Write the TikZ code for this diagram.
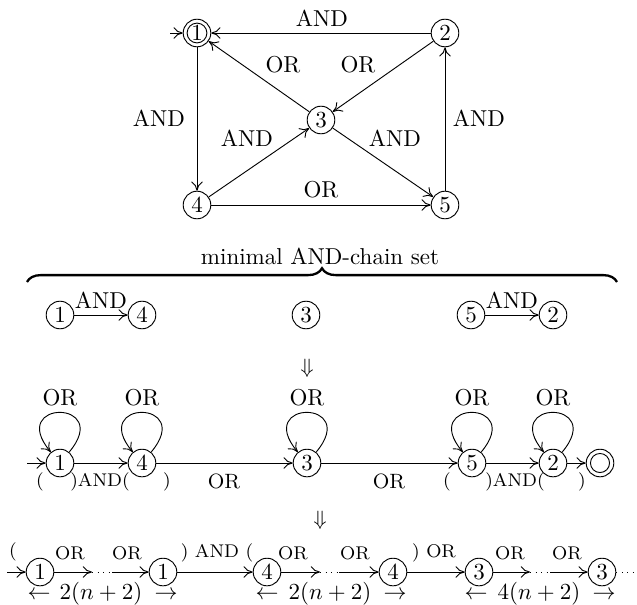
\documentclass[tikz,border=0pt]{standalone}
\usetikzlibrary{arrows.meta,decorations.pathreplacing}
\begin{document}
\begin{tikzpicture}[x=0.4348pt,y=-0.4348pt,
  st/.style={draw,circle,minimum size=12pt,inner sep=0pt},
  inner/.style={draw,circle,minimum size=8.6pt,inner sep=0pt},
  arr/.style={-{To[length=4pt,width=5pt]}},
  lbl/.style={inner sep=0pt},
  sml/.style={inner sep=0pt,font=\footnotesize},
  mid/.style={inner sep=0pt,font=\small},
  bl/.style={inner sep=0pt,anchor=base}
]
\useasboundingbox (0,0) rectangle (637,604);
% ---------- top graph ----------
\node[st] (t1) at (197,33) {};
\node[inner] (t1i) at (197,33) {1};
\node[st] (t2) at (445,33) {2};
\node[st] (t3) at (321,120) {3};
\node[st] (t4) at (197,205) {4};
\node[st] (t5) at (445,205) {5};
\coordinate (t0) at (170,33);
\draw[arr] (t0) -- (t1);
\draw[arr] (t2) -- (t1);
\draw[arr] (t1) -- (t4);
\draw[arr] (t3) -- (t1);
\draw[arr] (t2) -- (t3);
\draw[arr] (t4) -- (t3);
\draw[arr] (t3) -- (t5);
\draw[arr] (t4) -- (t5);
\draw[arr] (t5) -- (t2);
\node[lbl] (la) at (322,18) {AND};
\node[lbl] (lb) at (283,65) {OR};
\node[lbl] (lc) at (358,65) {OR};
\node[lbl] (ld) at (159,118) {AND};
\node[lbl] (le) at (247,138) {AND};
\node[lbl] (lf) at (395,138) {AND};
\node[lbl] (lg) at (321,190) {OR};
\node[lbl] (lh) at (479,118) {AND};
% ---------- brace ----------
\node[lbl] (title) at (320,256) {minimal AND-chain set};
\coordinate (br1) at (27,282);
\coordinate (br2) at (617,282);
\draw[line width=1pt,decorate,decoration={brace,amplitude=6pt}] (br1) -- (br2);
% ---------- row 2 ----------
\node[st] (a1) at (60,315) {1};
\node[st] (a4) at (142,315) {4};
\node[st] (a3) at (306,315) {3};
\node[st] (a5) at (471,315) {5};
\node[st] (a2) at (553,315) {2};
\draw[arr] (a1) -- (a4);
\draw[arr] (a5) -- (a2);
\node[lbl] (ra) at (101,300) {AND};
\node[lbl] (rb) at (512,300) {AND};
\node[lbl,font=\small] (dn1) at (307,368) {$\Downarrow$};
% ---------- row 3 ----------
\node[st] (b1) at (60,463) {1};
\node[st] (b4) at (142,463) {4};
\node[st] (b3) at (307,463) {3};
\node[st] (b5) at (472,463) {5};
\node[st] (b2) at (553,463) {2};
\node[st] (bf) at (600,463) {};
\node[inner,minimum size=8.3pt] (bfi) at (600,463) {};
\coordinate (b0) at (27,463);
\draw[arr] (b0) -- (b1);
\draw[arr] (b1) -- (b4);
\draw[arr] (b4) -- (b3);
\draw[arr] (b3) -- (b5);
\draw[arr] (b5) -- (b2);
\draw[arr] (b2) -- (bf);
\foreach \n in {b1,b4,b3,b5,b2}{
  \draw[arr] (\n.50) .. controls +(50:30pt) and +(130:30pt) .. (\n.130);
}
\node[lbl] (o1) at (60,398) {OR};
\node[lbl] (o4) at (142,398) {OR};
\node[lbl] (o3) at (307,398) {OR};
\node[lbl] (o5) at (472,398) {OR};
\node[lbl] (o2) at (553,398) {OR};
\node[sml] (p1) at (40,482) {(};
\node[sml] (p2) at (100,482) {)AND(};
\node[sml] (p3) at (167,482) {)};
\node[mid] (p4) at (224,481) {OR};
\node[mid] (p5) at (389,481) {OR};
\node[sml] (p6) at (447,482) {(};
\node[sml] (p7) at (515,482) {)AND(};
\node[sml] (p8) at (582,482) {)};
\node[lbl,font=\small] (dn2) at (320,520) {$\Downarrow$};
% ---------- row 4 ----------
\node[st] (c1) at (40,572) {1};
\node[st] (c2) at (163,572) {1};
\node[st] (c3) at (267,572) {4};
\node[st] (c4) at (393,572) {4};
\node[st] (c5) at (479,572) {3};
\node[st] (c6) at (602,572) {3};
\coordinate (c0) at (7,572);
\coordinate (d1a) at (92,572);
\coordinate (d1b) at (112,572);
\coordinate (d2a) at (320,572);
\coordinate (d2b) at (339,572);
\coordinate (d3a) at (530,572);
\coordinate (d3b) at (550,572);
\coordinate (dend) at (637,572);
\draw[arr] (c0) -- (c1);
\draw[arr] (c1) -- (d1a);
\draw[dotted] (d1a) -- (d1b);
\draw[arr] (d1b) -- (c2);
\draw[arr] (c2) -- (c3);
\draw[arr] (c3) -- (d2a);
\draw[dotted] (d2a) -- (d2b);
\draw[arr] (d2b) -- (c4);
\draw[arr] (c4) -- (c5);
\draw[arr] (c5) -- (d3a);
\draw[dotted] (d3a) -- (d3b);
\draw[arr] (d3b) -- (c6);
\draw[dotted] (c6) -- (dend);
\node[sml] (q0) at (13,552) {(};
\node[sml] (q1) at (70,553) {OR};
\node[sml] (q2) at (127,553) {OR};
\node[sml] (q3) at (217,553) {) AND (};
\node[sml] (q4) at (293,553) {OR};
\node[sml] (q5) at (355,553) {OR};
\node[sml] (q6) at (434,553) {) OR};
\node[sml] (q7) at (510,553) {OR};
\node[sml] (q8) at (567,553) {OR};
\node[bl] (w1l) at (39,599) {$\leftarrow$};
\node[bl] (w1) at (101,599) {$2(n+2)$};
\node[bl] (w1r) at (166,599) {$\rightarrow$};
\node[bl] (w2l) at (267,599) {$\leftarrow$};
\node[bl] (w2) at (330,599) {$2(n+2)$};
\node[bl] (w2r) at (395,599) {$\rightarrow$};
\node[bl] (w3l) at (476,599) {$\leftarrow$};
\node[bl] (w3) at (539,599) {$4(n+2)$};
\node[bl] (w3r) at (604,599) {$\rightarrow$};
\end{tikzpicture}
\end{document}
